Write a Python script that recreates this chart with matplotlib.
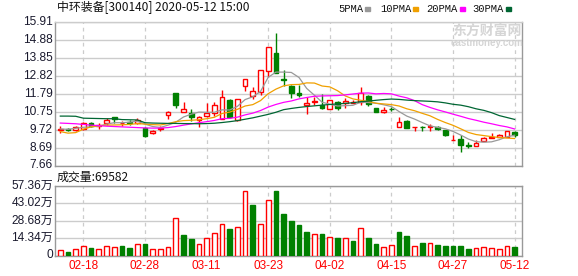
import matplotlib
matplotlib.use("Agg")
import matplotlib.pyplot as plt
from matplotlib.patches import Rectangle
import numpy as np

# ---- data (price in yuan, volume in 万) ----
dates = ["02-13", "02-14", "02-17", "02-18", "02-19", "02-20", "02-21", "02-24", "02-25", "02-26",
         "02-27", "02-28", "03-02", "03-03", "03-04", "03-05", "03-06", "03-09", "03-10", "03-11",
         "03-12", "03-13", "03-16", "03-17", "03-18", "03-19", "03-20", "03-23", "03-24", "03-25",
         "03-26", "03-27", "03-30", "03-31", "04-01", "04-02", "04-03", "04-07", "04-08", "04-09",
         "04-10", "04-13", "04-14", "04-15", "04-16", "04-17", "04-20", "04-21", "04-22", "04-23",
         "04-24", "04-27", "04-28", "04-29", "04-30", "05-06", "05-07", "05-08", "05-11", "05-12"]

open_ = [9.72, 9.73, 9.70, 9.78, 10.08, 9.93, 10.10, 10.42, 10.08, 10.18,
         10.12, 9.80, 9.52, 9.78, 10.55, 11.83, 10.74, 10.68, 10.25, 10.52,
         10.70, 10.35, 11.45, 10.25, 12.22, 11.64, 11.89, 13.08, 14.10, 12.65,
         12.25, 11.80, 11.16, 11.30, 11.15, 10.90, 11.30, 11.27, 11.27, 11.30,
         11.66, 10.95, 10.75, 10.93, 9.86, 10.22, 9.87, 9.90, 9.86, 9.90,
         9.70, 9.10, 9.18, 8.82, 8.80, 9.07, 9.24, 9.31, 9.31, 9.58]
high = [9.95, 9.80, 9.92, 10.18, 10.15, 10.12, 10.40, 10.45, 10.22, 10.30,
        10.40, 9.85, 9.70, 9.95, 10.78, 11.85, 11.31, 10.93, 10.50, 11.25,
        11.31, 11.98, 11.50, 11.50, 12.65, 12.18, 13.15, 14.50, 15.30, 13.15,
        12.28, 12.30, 11.58, 11.62, 11.75, 11.45, 11.38, 11.52, 11.45, 12.20,
        11.72, 10.95, 11.00, 11.05, 10.47, 10.30, 9.90, 9.92, 10.03, 9.92,
        9.72, 9.40, 9.42, 9.00, 9.10, 9.28, 9.50, 9.45, 9.63, 9.62]
low = [9.55, 9.62, 9.62, 9.72, 9.90, 9.76, 10.00, 10.10, 9.95, 10.00,
       10.05, 9.28, 9.45, 9.65, 10.35, 10.97, 10.72, 10.22, 9.86, 10.45,
       10.51, 10.33, 10.40, 10.20, 11.93, 11.47, 11.73, 12.75, 12.95, 12.25,
       11.56, 11.58, 10.62, 11.14, 10.90, 10.88, 10.85, 10.98, 11.24, 11.14,
       11.10, 10.72, 10.66, 10.78, 9.86, 9.84, 9.66, 9.62, 9.66, 9.72,
       9.35, 9.10, 8.42, 8.65, 8.78, 9.05, 9.24, 9.30, 9.30, 9.28]
close = [9.78, 9.68, 9.88, 10.12, 9.95, 9.98, 10.25, 10.32, 10.12, 10.10,
         10.27, 9.38, 9.65, 9.84, 10.75, 11.12, 10.89, 10.42, 10.45, 10.70,
         11.12, 11.60, 10.42, 11.47, 12.62, 11.95, 13.13, 14.47, 13.00, 12.58,
         11.85, 11.72, 11.28, 11.35, 10.98, 11.43, 10.98, 11.39, 11.32, 11.81,
         11.18, 10.72, 10.85, 10.89, 10.18, 9.84, 9.89, 9.87, 9.92, 9.74,
         9.42, 9.13, 8.84, 8.78, 8.97, 9.26, 9.27, 9.41, 9.62, 9.43]

ma5 = [9.76, 9.74, 9.80, 9.86, 9.88, 9.92, 10.04, 10.12, 10.12, 10.15,
       10.21, 10.04, 9.90, 9.85, 9.98, 10.15, 10.45, 10.61, 10.73, 10.72,
       10.72, 10.86, 10.85, 11.06, 11.45, 11.61, 11.92, 12.73, 13.03, 13.03,
       13.01, 12.72, 12.09, 11.70, 11.30, 11.18, 11.08, 11.10, 11.12, 11.30,
       11.28, 11.24, 11.15, 11.05, 10.76, 10.50, 10.33, 10.13, 9.94, 9.85,
       9.77, 9.62, 9.41, 9.18, 9.03, 9.00, 9.02, 9.14, 9.31, 9.40]
ma10 = [9.61, 9.52, 9.55, 9.75, 9.88, 9.95, 9.98, 9.99, 10.00, 10.02,
        10.07, 10.04, 10.01, 9.99, 10.07, 10.18, 10.24, 10.26, 10.29, 10.35,
        10.43, 10.65, 10.73, 10.89, 11.08, 11.16, 11.39, 11.79, 12.05, 12.24,
        12.31, 12.32, 12.41, 12.40, 12.23, 12.18, 11.96, 11.66, 11.49, 11.41,
        11.34, 11.24, 11.20, 11.16, 11.08, 10.92, 10.81, 10.66, 10.52, 10.31,
        10.13, 9.97, 9.77, 9.56, 9.44, 9.38, 9.32, 9.27, 9.24, 9.21]
ma20 = [10.10, 10.08, 10.06, 10.02, 9.98, 9.95, 9.92, 9.90, 9.88, 9.86,
        9.84, 9.82, 9.81, 9.81, 9.84, 9.90, 9.98, 10.05, 10.12, 10.18,
        10.25, 10.35, 10.37, 10.44, 10.57, 10.67, 10.82, 11.02, 11.17, 11.29,
        11.37, 11.49, 11.57, 11.64, 11.66, 11.67, 11.68, 11.72, 11.77, 11.82,
        11.83, 11.78, 11.80, 11.78, 11.65, 11.55, 11.39, 11.16, 11.00, 10.86,
        10.74, 10.61, 10.49, 10.36, 10.26, 10.15, 10.06, 9.96, 9.88, 9.76]
ma30 = [10.50, 10.50, 10.49, 10.38, 10.37, 10.36, 10.35, 10.35, 10.30, 10.29,
        10.28, 10.12, 10.10, 10.09, 10.08, 10.08, 10.07, 10.07, 10.06, 10.07,
        10.09, 10.13, 10.18, 10.24, 10.32, 10.40, 10.50, 10.60, 10.72, 10.87,
        10.94, 11.00, 11.05, 11.09, 11.13, 11.17, 11.20, 11.23, 11.27, 11.33,
        11.36, 11.41, 11.45, 11.48, 11.46, 11.42, 11.39, 11.37, 11.35, 11.32,
        11.26, 11.18, 11.13, 11.04, 10.92, 10.83, 10.70, 10.53, 10.42, 10.31]

volume = [4.7, 3.3, 5.5, 8.0, 5.8, 5.5, 7.7, 7.2, 7.5, 6.6,
          9.7, 9.1, 5.5, 5.5, 6.9, 31.3, 16.6, 13.6, 9.7, 14.7,
          18.9, 26.3, 21.6, 23.8, 52.9, 41.6, 26.3, 45.4, 53.2, 34.1,
          28.3, 24.9, 19.1, 18.0, 17.5, 15.5, 14.1, 14.7, 11.6, 23.0,
          14.1, 9.1, 7.2, 8.9, 19.1, 15.8, 8.0, 10.0, 10.5, 8.3,
          7.5, 7.5, 7.5, 5.0, 5.8, 7.2, 6.4, 5.0, 8.0, 6.96]
# r = up day, g = down day (volume bar colour)
vol_dir = "rgrrgrrrgg" "rgrrrrggrr" "rrgrrgrrgg" "gggrgrgrgr" "ggrrggrgrg" "ggggrrrrrg"

price_ticks = [7.66, 8.69, 9.72, 10.75, 11.79, 12.82, 13.85, 14.88, 15.91]
vol_ticks = [0, 14.34, 28.68, 43.02, 57.36]
vol_labels = ["0", "14.34万", "28.68万", "43.02万", "57.36万"]
date_ticks = ["02-18", "02-28", "03-11", "03-23", "04-02", "04-15", "04-27", "05-12"]

RED = "#ff0000"
GREEN = "#008000"
GRID = "#cccccc"
FRAME = "#999999"
TXT = "#1a1a2e"
W, H = 578, 276

fig = plt.figure(figsize=(W / 100, H / 100), dpi=100)
fig.patch.set_facecolor("white")

def box(l, t, r, b):
    return [l / W, 1 - b / H, (r - l) / W, (b - t) / H]

ax = fig.add_axes(box(55, 22, 522, 165.5))
axv = fig.add_axes(box(55, 186, 522, 255.5))

x = np.arange(len(dates))
tick_pos = [dates.index(d) for d in date_ticks]

for a in (ax, axv):
    a.set_xlim(-0.69, 59.96)
    a.set_xticks([])
    a.tick_params(left=False, labelleft=False, bottom=False)
    for s in a.spines.values():
        s.set_color(FRAME)
        s.set_linewidth(1)
    for p in tick_pos:
        a.axvline(p, color=GRID, lw=0.9, ls=(0, (3, 3)), zorder=0)
ax.spines["top"].set_color(GRID)

# price panel
ax.set_ylim(price_ticks[0], price_ticks[-1])
for t in price_ticks:
    ax.axhline(t, color=GRID, lw=1, zorder=0)
    fig.text(53 / W, 1 - (22 + (15.91 - t) / (15.91 - 7.66) * 143.5) / H, "%.2f" % t,
             ha="right", va="center", fontsize=8.6, family="Liberation Sans", color=TXT)

o = np.array(open_); c = np.array(close)
up = c >= o
cols = [RED if u else GREEN for u in up]
ax.vlines(x, low, high, colors=cols, lw=1, zorder=2)
hgt = np.maximum(np.abs(c - o), 0.02)
ax.bar(x, hgt, bottom=np.minimum(o, c), width=0.62,
       facecolor=["white" if u else GREEN for u in up], edgecolor=cols, lw=1, zorder=3)

ax.plot(x, ma5, color="#999999", lw=0.9, zorder=4)
ax.plot(x, ma10, color="#f0a000", lw=0.9, zorder=4)
ax.plot(x, ma20, color="#ff00ff", lw=0.9, zorder=4)
ax.plot(x, ma30, color="#006633", lw=0.9, zorder=4)

# volume panel
axv.set_ylim(0, 57.36)
for t, lab in zip(vol_ticks, vol_labels):
    axv.axhline(t, color=GRID, lw=1, zorder=0)
    fig.text(53 / W, 1 - (255.5 - t / 57.36 * 69.5) / H, lab, ha="right", va="center",
             fontsize=8.6, family=["Liberation Sans", "Noto Sans CJK SC"], color=TXT)
vcols = [RED if d == "r" else GREEN for d in vol_dir]
axv.bar(x, volume, width=0.62, facecolor=["white" if d == "r" else GREEN for d in vol_dir],
        edgecolor=vcols, lw=1, zorder=3)

for p, d in zip(tick_pos, date_ticks):
    fig.text((60.3 + p * 7.7) / W, 1 - 266 / H, d, ha="center", va="center",
             fontsize=8.5, family="Liberation Sans", color=RED)

# texts
cjk = ["Noto Sans CJK SC", "DejaVu Sans"]
fig.text(57 / W, 1 - 8 / H, "中环装备[300140] 2020-05-12 15:00", ha="left", va="center",
         fontsize=8.6, family=cjk, color="#111111")
fig.text(57 / W, 1 - 177 / H, "成交量:69582", ha="left", va="center",
         fontsize=8.6, family=cjk, color="#111111")

legend = [("5PMA", "#999999", 338, 365), ("10PMA", "#f0a000", 380, 413),
          ("20PMA", "#ff00ff", 426, 460), ("30PMA", "#006633", 472, 506)]
for name, col, tx, sx in legend:
    fig.text(tx / W, 1 - 9 / H, name, ha="left", va="center", fontsize=7.6,
             family="Liberation Mono", color="#111111")
    fig.patches.append(Rectangle((sx / W, 1 - 10.5 / H), 5 / W, 3 / H, color=col,
                                 transform=fig.transFigure, figure=fig))

# watermark
fig.text(487 / W, 1 - 31 / H, "东方财富网", ha="center", va="center", fontsize=10,
         family=cjk, color="#d5d5d5", weight="bold")
fig.text(487 / W, 1 - 43 / H, "eastmoney.com", ha="center", va="center", fontsize=7,
         family="Liberation Sans", color="#d5d5d5", weight="bold")

fig.savefig("out.png", dpi=100)
